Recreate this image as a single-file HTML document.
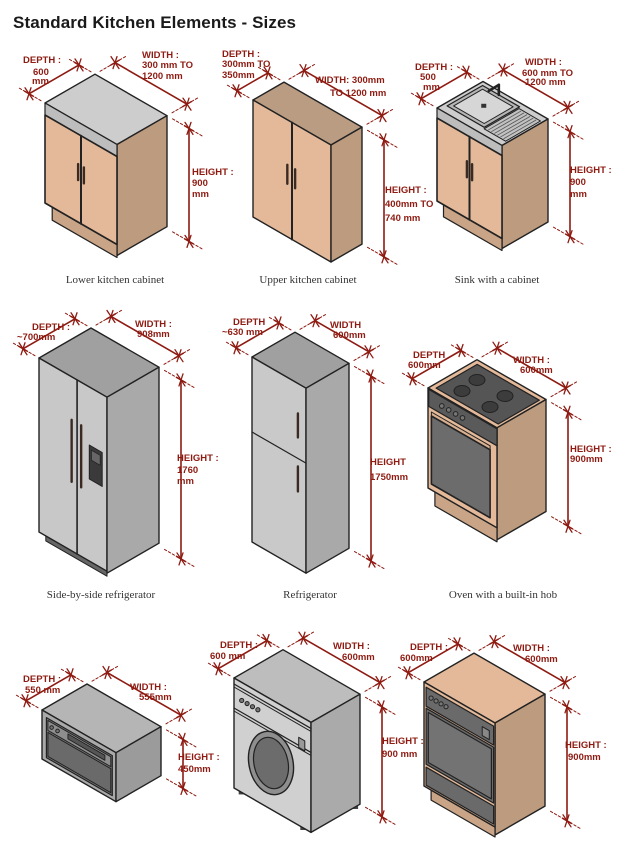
<!DOCTYPE html>
<html><head><meta charset="utf-8">
<style>
html,body{margin:0;padding:0;background:#fff;}
svg{display:block;}
.t{font-family:"Liberation Sans Narrow","Liberation Sans",sans-serif;font-size:9.5px;fill:#8e1b12;font-weight:bold;}
.c{font-family:"Liberation Serif",serif;font-size:11px;fill:#333;text-anchor:middle;}
</style></head>
<body>
<svg id="s" width="620" height="852" viewBox="0 0 620 852" xmlns="http://www.w3.org/2000/svg">
<g id="shapes"></g>
<text x="13" y="28" font-family="Liberation Sans, sans-serif" font-weight="bold" font-size="17" fill="#1a1a1a" textLength="283">Standard Kitchen Elements - Sizes</text>

<text class="t" x="23" y="63">DEPTH :</text><text class="t" x="33" y="75">600</text><text class="t" x="32" y="84">mm</text>
<text class="t" x="142" y="58">WIDTH :</text><text class="t" x="142" y="68">300 mm TO</text><text class="t" x="142" y="79">1200 mm</text>
<text class="t" x="192" y="175">HEIGHT :</text><text class="t" x="192" y="186">900</text><text class="t" x="192" y="197">mm</text>

<text class="t" x="222" y="57">DEPTH :</text><text class="t" x="222" y="67">300mm TO</text><text class="t" x="222" y="78">350mm</text>
<text class="t" x="315" y="83">WIDTH: 300mm</text><text class="t" x="330" y="96">TO 1200 mm</text>
<text class="t" x="385" y="193">HEIGHT :</text><text class="t" x="385" y="207">400mm TO</text><text class="t" x="385" y="221">740 mm</text>

<text class="t" x="415" y="70">DEPTH :</text><text class="t" x="420" y="80">500</text><text class="t" x="423" y="90">mm</text>
<text class="t" x="525" y="65">WIDTH :</text><text class="t" x="522" y="76">600 mm TO</text><text class="t" x="525" y="85">1200 mm</text>
<text class="t" x="570" y="173">HEIGHT :</text><text class="t" x="570" y="185">900</text><text class="t" x="570" y="197">mm</text>

<text class="t" x="32" y="330">DEPTH :</text><text class="t" x="17" y="340">~700mm</text>
<text class="t" x="135" y="327">WIDTH :</text><text class="t" x="137" y="337">908mm</text>
<text class="t" x="177" y="461">HEIGHT :</text><text class="t" x="177" y="473">1760</text><text class="t" x="177" y="484">mm</text>

<text class="t" x="233" y="325">DEPTH</text><text class="t" x="222" y="335">~630 mm</text>
<text class="t" x="330" y="328">WIDTH</text><text class="t" x="333" y="338">600mm</text>
<text class="t" x="370" y="465">HEIGHT</text><text class="t" x="370" y="480">1750mm</text>

<text class="t" x="413" y="358">DEPTH</text><text class="t" x="408" y="368">600mm</text>
<text class="t" x="513" y="363">WIDTH :</text><text class="t" x="520" y="373">600mm</text>
<text class="t" x="570" y="452">HEIGHT :</text><text class="t" x="570" y="462">900mm</text>

<text class="t" x="23" y="682">DEPTH :</text><text class="t" x="25" y="693">550 mm</text>
<text class="t" x="130" y="690">WIDTH :</text><text class="t" x="139" y="700">555mm</text>
<text class="t" x="178" y="760">HEIGHT :</text><text class="t" x="178" y="772">450mm</text>

<text class="t" x="220" y="648">DEPTH :</text><text class="t" x="210" y="659">600 mm</text>
<text class="t" x="333" y="649">WIDTH :</text><text class="t" x="342" y="660">600mm</text>
<text class="t" x="382" y="744">HEIGHT :</text><text class="t" x="382" y="757">900 mm</text>

<text class="t" x="410" y="650">DEPTH :</text><text class="t" x="400" y="661">600mm</text>
<text class="t" x="513" y="651">WIDTH :</text><text class="t" x="525" y="662">600mm</text>
<text class="t" x="565" y="748">HEIGHT :</text><text class="t" x="568" y="760">900mm</text>

<text class="c" x="115" y="283">Lower kitchen cabinet</text>
<text class="c" x="308" y="283">Upper kitchen cabinet</text>
<text class="c" x="497" y="283">Sink with a cabinet</text>
<text class="c" x="101" y="598">Side-by-side refrigerator</text>
<text class="c" x="310" y="598">Refrigerator</text>
<text class="c" x="503" y="598">Oven with a built-in hob</text>
</svg>
<script>
(function(){
var NS="http://www.w3.org/2000/svg",G=document.getElementById("shapes"),k=0.577,RED="#8e1b12",INK="#222";
function el(n,a){var e=document.createElementNS(NS,n);for(var x in a)e.setAttribute(x,a[x]);G.appendChild(e);return e;}
function P(p){return p.map(function(q){return q[0].toFixed(1)+","+q[1].toFixed(1)}).join(" ");}
function poly(pts,fill,sw){el("polygon",{points:P(pts),fill:fill,stroke:INK,"stroke-width":sw==null?1.2:sw,"stroke-linejoin":"round"});}
function line(a,b,st,w,dash){var o={x1:a[0],y1:a[1],x2:b[0],y2:b[1],stroke:st,"stroke-width":w,"stroke-linecap":"round"};if(dash)o["stroke-dasharray"]=dash;el("line",o);}
function B(Lx,Ly,wf,ws,H){var F=[Lx+wf,Ly+wf*k];return{L:[Lx,Ly],wf:wf,ws:ws,H:H,F:F,R:[F[0]+ws,F[1]-ws*k],Bk:[Lx+ws,Ly-ws*k]};}
function fp(b,u,v){return[b.L[0]+u*b.wf,b.L[1]+u*b.wf*k+v];}
function sp(b,u,v){return[b.F[0]+u*b.ws,b.F[1]-u*b.ws*k+v];}
function tp(b,u,w){return[b.L[0]+u*b.wf+w*b.ws,b.L[1]+u*b.wf*k-w*b.ws*k];}
function fq(b,u0,u1,v0,v1,f,sw){poly([fp(b,u0,v0),fp(b,u1,v0),fp(b,u1,v1),fp(b,u0,v1)],f,sw);}
function sq(b,u0,u1,v0,v1,f,sw){poly([sp(b,u0,v0),sp(b,u1,v0),sp(b,u1,v1),sp(b,u0,v1)],f,sw);}
function tq(b,u0,u1,w0,w1,f,sw){poly([tp(b,u0,w0),tp(b,u1,w0),tp(b,u1,w1),tp(b,u0,w1)],f,sw);}
function fl(b,u0,v0,u1,v1,c,w){line(fp(b,u0,v0),fp(b,u1,v1),c||INK,w||1.2);}
function box(b,top,front,side){poly([b.L,b.F,b.R,b.Bk],top,1.4);fq(b,0,1,0,b.H,front,1.4);sq(b,0,1,0,b.H,side,1.4);}
function dim(A,C,o){
 var Pp=[A[0]+o[0],A[1]+o[1]],Q=[C[0]+o[0],C[1]+o[1]];
 [A,C].forEach(function(X){line([X[0]+o[0]*0.25,X[1]+o[1]*0.25],[X[0]+o[0]*1.6,X[1]+o[1]*1.6],RED,1,"2.5,2");});
 line(Pp,Q,RED,1.6);
 [Pp,Q].forEach(function(X){var m=Math.hypot(o[0],o[1]),ux=o[0]/m,uy=o[1]/m;
  line([X[0]-ux*5,X[1]-uy*5],[X[0]+ux*5,X[1]+uy*5],RED,1.5);
  line([X[0]-4,X[1]-6],[X[0]+4,X[1]+6],RED,1.3);
  line([X[0]+2,X[1]-6],[X[0]-2,X[1]+6],RED,1.3);});
}
function dims(b){dim(b.L,b.Bk,[-16,-16*k]);dim(b.Bk,b.R,[20,-20*k]);dim(b.R,[b.R[0],b.R[1]+b.H],[22,22*k]);}
function handle(b,u,v0,v1){line(fp(b,u,v0),fp(b,u,v1),"#3a2a22",2.4);}
function knob(p,r){el("circle",{cx:p[0],cy:p[1],r:r||2,fill:"#777",stroke:INK,"stroke-width":1});}
var TAN="#e3b99a",TANS="#bd9b7f",TANT="#b99c82";

// 1 lower cabinet
var b=B(45,103,72,50,113);
poly([b.L,b.F,b.R,b.Bk],"#cdcdcd",1.4);
sq(b,0,1,0,b.H-2,TANS,1.4);
fq(b,0.1,1,100,113,"#c9a486",1.2);
fq(b,0,1,0,12,"#bdbdbd",1.2);
fq(b,0,1,12,100,TAN,1.6);
fl(b,0.5,12,0.5,100,INK,2);
handle(b,0.46,42,58);handle(b,0.54,42,58);
dims(b);

// 2 upper cabinet
b=B(253,100,78,31,117);
box(b,TANT,TAN,TANS);
fl(b,0.5,0,0.5,117,INK,2);
handle(b,0.44,45,64);handle(b,0.54,45,64);
dims(b);

// 3 sink
b=B(437,108,65,46,105);
poly([b.L,b.F,b.R,b.Bk],"#cdcdcd",1.4);
tq(b,0.05,0.62,0.15,0.92,"#b5b5b5",1.2);
tq(b,0.1,0.57,0.22,0.85,"#d6d6d6",1);
var c=tp(b,0.33,0.55);el("rect",{x:c[0]-2.5,y:c[1]-2,width:5,height:4,fill:"#333"});
tq(b,0.64,0.97,0.12,0.88,"#c2c2c2",1);
for(var i=1;i<7;i++){line(tp(b,0.64+i*0.047,0.15),tp(b,0.64+i*0.047,0.85),"#555",0.8);}
var f1=tp(b,0.3,0.92);line(f1,[f1[0],f1[1]-10],"#222",2.6);line([f1[0],f1[1]-10],[f1[0]-10,f1[1]-4],"#222",2.6);
sq(b,0,1,0,b.H-2,TANS,1.4);
fq(b,0.1,1,93,105,"#c9a486",1.2);
fq(b,0,1,0,10,"#bdbdbd",1.2);
fq(b,0,1,10,93,TAN,1.6);
fl(b,0.5,10,0.5,93,INK,2);
handle(b,0.46,36,52);handle(b,0.54,36,52);
dims(b);

// 4 side-by-side fridge
b=B(39,358,68,52,179);
poly([b.L,b.F,b.R,b.Bk],"#a0a0a0",1.4);
fq(b,0.1,1,172,179,"#666",1);
fq(b,0,1,0,174,"#c8c8c8",1.4);
sq(b,0,1,0,176,"#a9a9a9",1.4);
fl(b,0.56,0,0.56,174,INK,1.6);
handle(b,0.48,43,105);handle(b,0.62,43,105);
fq(b,0.74,0.93,58,92,"#3a3a3a",1);
fq(b,0.77,0.9,62,72,"#666",0.8);
dims(b);

// 5 fridge
b=B(252,357,54,43,185);
box(b,"#a0a0a0","#c9c9c9","#a9a9a9");
fl(b,0,75,1,75,INK,1.2);
handle(b,0.85,30,54);handle(b,0.85,83,108);
dims(b);

// 6 oven with hob
b=B(428,388,69,49,114);
poly([b.L,b.F,b.R,b.Bk],TAN,1.4);
tq(b,0.06,0.96,0.08,0.92,"#555",1.2);
[[477,380],[462,391],[505,396],[490,407]].forEach(function(q){el("ellipse",{cx:q[0],cy:q[1],rx:8,ry:5.5,fill:"#3c3c3c",stroke:"#222","stroke-width":1});});
sq(b,0,1,0,b.H-2,TANS,1.4);
fq(b,0.1,1,100,114,"#c9a486",1.2);
fq(b,0,1,0,100,TAN,1.4);
fq(b,0.01,1,1,18,"#5a5a5a",1.2);
[0.2,0.3,0.4,0.5].forEach(function(u){knob(fp(b,u,10),2.3);});
fq(b,0.05,0.9,22,26,"#d9b090",1);
fq(b,0.05,0.9,26,94,"#6c6c6c",1.6);
dims(b);

// 7 built-in oven
b=B(42,710,74,45,49);
box(b,"#b5b5b5","#a9a9a9","#9b9b9b");
fq(b,0.06,0.95,5,45,"#7a7a7a",1.2);
fq(b,0.08,0.93,7,17,"#8e8e8e",1);
fq(b,0.35,0.85,9,14,"#555",0.9);
knob(fp(b,0.13,12),1.8);knob(fp(b,0.21,12),1.8);
fq(b,0.08,0.93,19,43,"#6a6a6a",1);
dims(b);

// 8 washer
b=B(234,678,77,49,110);
[[0.1,108],[0.9,108]].forEach(function(q){var p=fp(b,q[0],q[1]);el("rect",{x:p[0]-3,y:p[1]-2,width:6,height:6,fill:"#444"});});
var rp=sp(b,0.9,108);el("rect",{x:rp[0]-3,y:rp[1]-2,width:6,height:6,fill:"#444"});
box(b,"#bdbdbd","#d0d0d0","#aaaaaa");
fl(b,0,6,1,6,INK,1.2);fl(b,0,9,1,9,INK,1);
fl(b,0,30,1,30,INK,1.2);fl(b,0,33,1,33,INK,1);
[0.1,0.17,0.24,0.31].forEach(function(u){knob(fp(b,u,18),2.1);});
fq(b,0.84,0.92,22,32,"#999",1);
el("ellipse",{cx:271,cy:763,rx:22,ry:32,fill:"#8e8e8e",stroke:INK,"stroke-width":1.4,transform:"rotate(-12 271 763)"});
el("ellipse",{cx:271,cy:763,rx:17,ry:26,fill:"#6c6c6c",stroke:INK,"stroke-width":1.2,transform:"rotate(-12 271 763)"});
dims(b);

// 9 oven column
b=B(424,682,71,50,114);
poly([b.L,b.F,b.R,b.Bk],TAN,1.4);
sq(b,0,1,0,b.H-2,TANS,1.4);
fq(b,0.1,1,104,114,"#c9a486",1.2);
fq(b,0,1,0,104,TAN,1.4);
fq(b,0.03,0.98,4,23,"#6a6a6a",1.2);
[0.1,0.17,0.24,0.31].forEach(function(u){knob(fp(b,u,12),2.1);});
fq(b,0.82,0.92,11,20,"#888",1);
fq(b,0.03,0.98,25,81,"#6a6a6a",1.2);
fq(b,0.06,0.95,28,78,"#737373",1.2);
fq(b,0.03,0.98,84,102,"#6a6a6a",1.2);
dims(b);
})();
</script>
</body></html>
